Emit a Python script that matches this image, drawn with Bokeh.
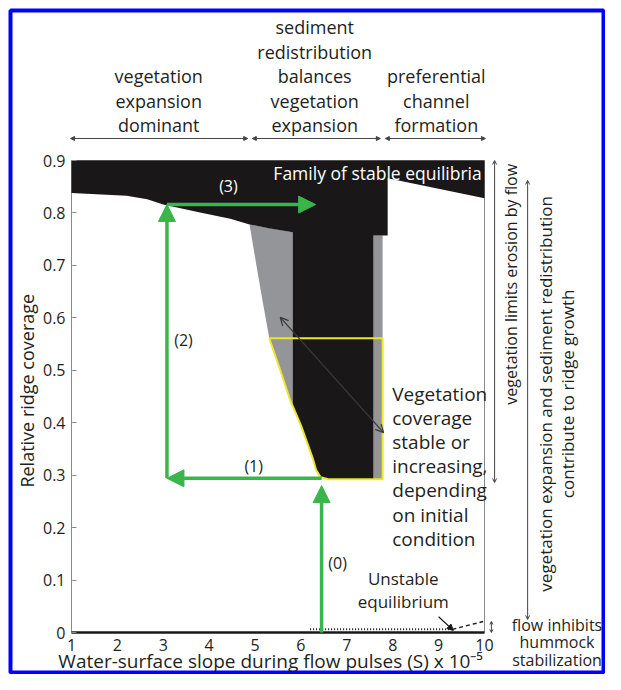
from bokeh.plotting import figure
from bokeh.models import (Range1d, FixedTicker, Label, Arrow, NormalHead, OpenHead,
                          ColumnDataSource, LinearAxis)
from bokeh.embed import file_html
from bokeh.resources import INLINE

FONT = "Open Sans"
TXT = "#231f20"
BLACK = "#1a1718"
GRAY = "#939598"
GREEN = "#39b54a"
YELLOW = "#ece62f"
FRAME = "#8a8a8a"

# ---------------- data ----------------
x_ticks = [1, 2, 3, 4, 5, 6, 7, 8, 9, 10]
y_ticks = [0, 0.1, 0.2, 0.3, 0.4, 0.5, 0.6, 0.7, 0.8, 0.9]

# family of stable equilibria (black region)
stable_x = [1, 10, 10, 7.89, 7.89, 7.58, 7.58, 6.62, 6.43, 6.33, 6.25, 6.0, 5.82,
            5.82, 5.3, 4.88, 4.46, 3.8, 3.0, 2.65, 2.2, 1]
stable_y = [0.9, 0.9, 0.828, 0.866, 0.757, 0.757, 0.292, 0.292, 0.296, 0.31, 0.334,
            0.395, 0.432, 0.763, 0.771, 0.778, 0.789, 0.801, 0.816, 0.826, 0.833, 0.838]

# grey zones
grey_left_x = [4.88, 5.82, 5.82, 5.77, 5.55, 5.31, 5.16, 5.02]
grey_left_y = [0.778, 0.763, 0.432, 0.442, 0.50, 0.561, 0.634, 0.705]
grey_right_x = [7.58, 7.78, 7.78, 7.58]
grey_right_y = [0.757, 0.757, 0.292, 0.292]

# yellow outline (vegetation coverage stable or increasing)
yellow_x = [5.31, 7.78, 7.78, 6.62, 6.43, 6.33, 6.25, 6.0, 5.77, 5.55, 5.31]
yellow_y = [0.561, 0.561, 0.292, 0.292, 0.296, 0.31, 0.334, 0.395, 0.442, 0.50, 0.561]

# unstable equilibrium
unstable_dot_x = [6.2, 9.3]
unstable_dot_y = [0.006, 0.006]
unstable_dash_x = [9.3, 9.97]
unstable_dash_y = [0.006, 0.021]

# green path (0)-(3)
path_x0 = [6.45, 6.45, 3.08, 3.08]
path_y0 = [0.0, 0.294, 0.294, 0.816]
path_x1 = [6.45, 3.08, 3.08, 6.32]
path_y1 = [0.28, 0.294, 0.816, 0.816]
path_labels = ["(0)", "(1)", "(2)", "(3)"]
path_label_x = [6.8, 4.97, 3.44, 4.42]
path_label_y = [0.132, 0.318, 0.557, 0.852]
path_label_color = [TXT, TXT, TXT, "white"]

# ---------------- geometry of the page ----------------
W, H = 605, 674                          # canvas size
FR_L, FR_T, FR_R, FR_B = 10, 10, 603, 672  # drawing frame inside the blue border
PX_X0, PX_X1 = 71, 484                   # canvas pixel of x = 1 and x = 10
PX_Y0, PX_Y1 = 632, 160                  # canvas pixel of y = 0 and y = 0.9
sx = (PX_X1 - PX_X0) / (x_ticks[-1] - x_ticks[0])
sy = (PX_Y0 - PX_Y1) / (y_ticks[-1] - y_ticks[0])
x_start = x_ticks[0] - (PX_X0 - FR_L) / sx
x_end = x_start + (FR_R - FR_L) / sx
y_start = y_ticks[0] - (FR_B - PX_Y0) / sy
y_end = y_start + (FR_B - FR_T) / sy

p = figure(width=W, height=H, x_range=Range1d(x_start, x_end),
           y_range=Range1d(y_start, y_end), output_backend="svg",
           toolbar_location=None, x_axis_location=None, y_axis_location=None,
           min_border_left=FR_L, min_border_top=FR_T, min_border_right=W - FR_R,
           min_border_bottom=H - FR_B,
           background_fill_color="white", border_fill_color="white")
p.grid.visible = False
p.outline_line_color = "#0000ff"
p.outline_line_width = 4

xax = LinearAxis(fixed_location=y_ticks[0], ticker=FixedTicker(ticks=x_ticks),
                 bounds=(x_ticks[0], x_ticks[-1]))
yax = LinearAxis(fixed_location=x_ticks[0], ticker=FixedTicker(ticks=y_ticks),
                 bounds=(y_ticks[0], y_ticks[-1]))
yax.major_label_overrides = {0: "0"}
for ax in (xax, yax):
    ax.major_label_text_font = FONT
    ax.major_label_text_font_size = "16px"
    ax.major_label_text_color = TXT
    ax.minor_tick_line_color = None
xax.axis_line_color = BLACK
xax.axis_line_width = 2.5
xax.major_tick_line_color = None
xax.major_label_standoff = 0
yax.axis_line_color = None
yax.major_tick_line_color = FRAME
yax.major_tick_in = 5
yax.major_tick_out = 0
yax.major_label_standoff = 6
p.add_layout(xax, "below")
p.add_layout(yax, "left")

# plot box
box_x = [x_ticks[0], x_ticks[-1], x_ticks[-1], x_ticks[0], x_ticks[0]]
box_y = [y_ticks[0], y_ticks[0], y_ticks[-1], y_ticks[-1], y_ticks[0]]
p.line(box_x, box_y, line_color=FRAME, line_width=1)

# regions
p.patch(grey_left_x, grey_left_y, fill_color=GRAY, line_color=None)
p.patch(grey_right_x, grey_right_y, fill_color=GRAY, line_color=None)
p.patch(stable_x, stable_y, fill_color=BLACK, line_color=None)
p.line(yellow_x, yellow_y, line_color=YELLOW, line_width=2)

# unstable equilibrium
p.line(unstable_dot_x, unstable_dot_y, line_color=BLACK, line_width=2, line_dash="1 2")
p.line(unstable_dash_x, unstable_dash_y, line_color=BLACK, line_width=1.5, line_dash="4 3")

# green arrows
src = ColumnDataSource(dict(x0=path_x0, y0=path_y0, x1=path_x1, y1=path_y1))
p.add_layout(Arrow(x_start="x0", y_start="y0", x_end="x1", y_end="y1", source=src,
                   line_color=GREEN, line_width=3.5,
                   end=NormalHead(size=17, fill_color=GREEN, line_color=GREEN)))


def lab(text, x, y, size="16px", color=TXT, align="center", angle=0, baseline="middle"):
    p.add_layout(Label(x=x, y=y, text=text, text_font=FONT, text_font_size=size,
                       text_color=color, text_align=align, text_baseline=baseline,
                       angle=angle))


for t, x, y, c in zip(path_labels, path_label_x, path_label_y, path_label_color):
    lab(t, x, y, size="16px", color=c)

# double headed arrow
p.add_layout(Arrow(x_start=5.55, y_start=0.601, x_end=7.8, y_end=0.381,
                   line_color="#3a3a3a", line_width=1.3,
                   start=OpenHead(size=8, line_color="#3a3a3a", line_width=1.3),
                   end=OpenHead(size=8, line_color="#3a3a3a", line_width=1.3)))

# pointer to unstable equilibrium
p.add_layout(Arrow(x_start=9.0, y_start=0.03, x_end=9.32, y_end=0.004,
                   line_color=BLACK, line_width=1.2,
                   end=NormalHead(size=6, fill_color=BLACK, line_color=BLACK)))

# axis titles
lab("Relative ridge coverage", 0.04, 0.461, size="18px", angle=1.5708)
lab("Water-surface slope during flow pulses (S) x 10\u207b\u2075", 5.34, -0.055,
    size="19px")

lab("Family of stable equilibria", 10.0 - 0.06, 0.877, size="17.5px", color="white",
    align="right")

veg_lines = ["Vegetation", "coverage", "stable or", "increasing,", "depending",
             "on initial", "condition"]
for i, t in enumerate(veg_lines):
    lab(t, 7.99, 0.454 - i * 0.0458, size="19px", align="left")

lab("Unstable", 8.23, 0.103, size="17px")
lab("equilibrium", 8.23, 0.059, size="17px")

# top regime labels and brackets
top_groups = [
    (2.90, ["vegetation", "expansion", "dominant"]),
    (6.30, ["sediment", "redistribution", "balances", "vegetation", "expansion"]),
    (8.95, ["preferential", "channel", "formation"]),
]
for xc, lines in top_groups:
    n = len(lines)
    for i, t in enumerate(lines):
        lab(t, xc, 0.967 + (n - 1 - i) * 0.0468, size="18px")

brackets = [(0.98, 4.84), (4.94, 7.73), (7.84, 10.02)]
for a, b in brackets:
    p.add_layout(Arrow(x_start=a, y_start=0.942, x_end=b, y_end=0.942,
                       line_color="#444", line_width=1,
                       start=NormalHead(size=4, fill_color="#444", line_color="#444"),
                       end=NormalHead(size=4, fill_color="#444", line_color="#444")))

# right side brackets and labels
p.add_layout(Arrow(x_start=10.22, y_start=0.286, x_end=10.22, y_end=0.9,
                   line_color="#444", line_width=1,
                   start=OpenHead(size=4, line_color="#444", line_width=1),
                   end=OpenHead(size=4, line_color="#444", line_width=1)))
lab("vegetation limits erosion by flow", 10.57, 0.664, size="16px", angle=1.5708)

p.add_layout(Arrow(x_start=10.94, y_start=0.025, x_end=10.94, y_end=0.862,
                   line_color="#444", line_width=1,
                   start=OpenHead(size=4, line_color="#444", line_width=1),
                   end=OpenHead(size=4, line_color="#444", line_width=1)))
lab("vegetation expansion and sediment redistribution", 11.32, 0.455, size="17px",
    angle=1.5708)
lab("contribute to ridge growth", 11.80, 0.455, size="17px", angle=1.5708)

p.add_layout(Arrow(x_start=10.15, y_start=0.0, x_end=10.15, y_end=0.021,
                   line_color="#444", line_width=1,
                   start=OpenHead(size=3, line_color="#444", line_width=1),
                   end=OpenHead(size=3, line_color="#444", line_width=1)))
lab("flow inhibits", 11.58, 0.015, size="16px")
lab("hummock", 11.58, -0.019, size="16px")
lab("stabilization", 11.58, -0.053, size="16px")

open("out.html", "w").write(file_html(p, INLINE))
